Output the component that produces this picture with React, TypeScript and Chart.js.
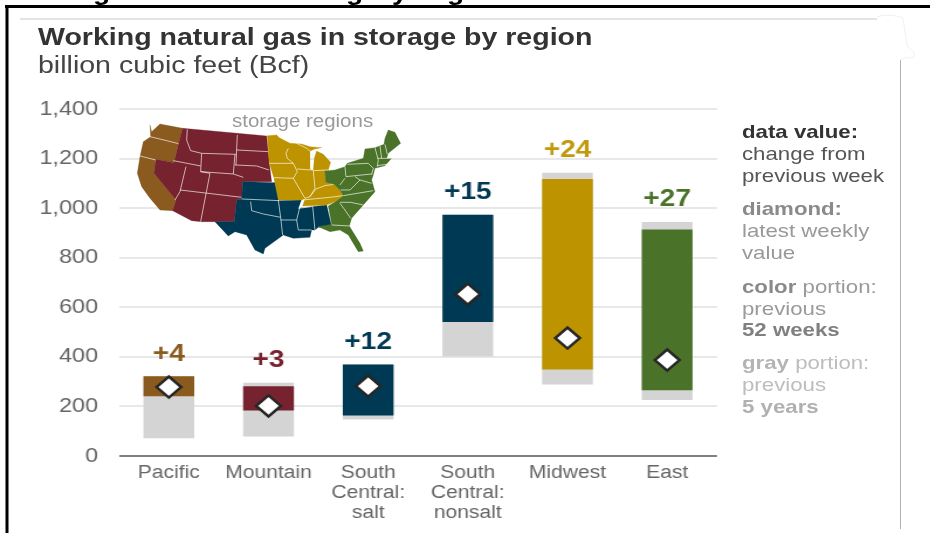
import React, { useEffect, useRef } from "react";
import { Chart, registerables } from "chart.js";

Chart.register(...registerables);

const categories = [
  "Pacific",
  "Mountain",
  ["South", "Central:", "salt"],
  ["South", "Central:", "nonsalt"],
  "Midwest",
  "East",
];
const grayLow = [73, 80, 149, 403, 290, 227];
const grayHigh = [320, 294, 368, 972, 1141, 943];
const colorLow = [242, 185, 165, 542, 350, 267];
const colorHigh = [320, 280, 368, 972, 1116, 912];
const latestWeekly = [278, 202, 282, 653, 476, 387];
const weeklyChange = ["+4", "+3", "+12", "+15", "+24", "+27"];
const regionColors = ["#8a5a1f", "#76232f", "#003953", "#003953", "#bd9400", "#4a7229"];
const textColors = ["#8a5a1f", "#76232f", "#003953", "#003953", "#c09a0c", "#4a7229"];

const K = 1.17;
const W = 930 / K;
const H = 533;
const X = (px: number) => px / K;
const FONT = '"Liberation Sans", Arial, sans-serif';

// decorative locator map: outlines and internal borders, all in 3x page units
const mapRegions: { fill: string; outline: string; borders: string[] }[] = [
  {
    fill: "#8a5a1f",
    outline:
      "450,375 455,395 480,372 548,385 535,435 522,488 468,478 462,520 528,600 518,632 480,630 450,595 425,560 412,520 420,470 430,425 452,410",
    borders: ["450,410 500,422 540,432", "420,468 475,482"],
  },
  {
    fill: "#76232f",
    outline:
      "548,385 800,408 808,490 815,545 728,545 725,597 710,600 703,665 605,665 575,662 518,632 528,600 462,520 468,478 522,488 535,435",
    borders: [
      "562,388 560,420 572,452 605,460",
      "605,460 708,463",
      "712,405 708,495",
      "710,450 805,455",
      "705,495 770,498 807,510",
      "605,460 602,515 700,522 705,463",
      "520,482 602,498",
      "558,500 540,575",
      "602,515 630,520 618,582",
      "700,522 730,532",
      "540,570 725,592",
      "618,582 602,665",
      "540,575 525,600",
    ],
  },
  {
    fill: "#003953",
    outline:
      "728,545 825,548 838,602 905,600 895,625 980,615 995,680 955,682 945,690 935,690 930,712 880,715 850,705 795,745 790,762 765,750 740,705 705,695 685,708 645,665 703,665 710,600 725,597",
    borders: [
      "725,597 838,602",
      "752,605 755,632 790,642 842,652",
      "835,600 842,652 848,705",
      "842,660 890,660",
      "905,600 890,660 895,690 935,690",
      "895,625 935,620",
      "938,618 945,690",
    ],
  },
  {
    fill: "#bd9400",
    outline:
      "802,407 830,405 838,413 870,430 905,432 930,440 965,443 945,447 930,453 930,510 940,512 943,475 950,453 970,463 992,487 985,510 975,513 977,547 1002,553 1020,570 1030,587 1010,603 980,615 908,618 915,597 905,600 835,600 822,535 808,490",
    borders: [
      "808,490 880,490",
      "865,445 858,460 862,475 880,490",
      "822,533 880,535",
      "880,490 892,515 880,535",
      "892,507 930,510",
      "880,535 915,595",
      "940,512 945,565 930,590",
      "940,512 985,510",
      "915,595 930,590 948,567 975,557 1002,553",
      "908,600 990,592 1030,587",
      "890,430 920,445 930,453",
    ],
  },
  {
    fill: "#4a7229",
    outline:
      "975,513 1005,510 1035,500 1042,490 1090,475 1095,447 1125,443 1152,433 1155,415 1165,390 1185,397 1202,430 1165,460 1160,475 1175,475 1155,497 1125,505 1120,525 1115,540 1125,575 1090,615 1055,655 1048,678 1080,730 1090,753 1075,755 1045,705 1020,690 990,695 955,680 995,673 985,618 1010,603 1030,587 1020,570 1002,553 977,547",
    borders: [
      "1035,500 1038,530",
      "1042,493 1105,490",
      "1038,530 1115,522",
      "1125,443 1135,480 1132,500",
      "1140,437 1145,475",
      "1155,433 1162,463",
      "1132,475 1175,475",
      "1132,497 1160,493",
      "1105,490 1120,505 1115,525",
      "1035,535 1020,555",
      "1022,570 1050,570 1080,540",
      "1065,530 1080,540 1115,550",
      "1030,587 1120,572",
      "1020,607 1052,607 1090,615",
      "1020,610 1035,630 1052,655",
      "995,675 1048,678",
    ],
  },
];

const notes: { y: number; parts: { t: string; b?: boolean; c: string }[] }[] = [
  { y: 132, parts: [{ t: "data value:", b: true, c: "#333333" }] },
  { y: 154, parts: [{ t: "change from", c: "#555555" }] },
  { y: 176, parts: [{ t: "previous week", c: "#555555" }] },
  { y: 209, parts: [{ t: "diamond:", b: true, c: "#8a8a8a" }] },
  { y: 231, parts: [{ t: "latest weekly", c: "#999999" }] },
  { y: 253, parts: [{ t: "value", c: "#999999" }] },
  { y: 287, parts: [{ t: "color", b: true, c: "#8a8a8a" }, { t: " portion:", c: "#9a9a9a" }] },
  { y: 309, parts: [{ t: "previous", c: "#9a9a9a" }] },
  { y: 330, parts: [{ t: "52 weeks", b: true, c: "#808080" }] },
  { y: 363, parts: [{ t: "gray", b: true, c: "#b4b4b4" }, { t: " portion:", c: "#bdbdbd" }] },
  { y: 385, parts: [{ t: "previous", c: "#bdbdbd" }] },
  { y: 407, parts: [{ t: "5 years", b: true, c: "#b0b0b0" }] },
];

const Label = ({ x, y, size, bold, color, children }: any) => (
  <div
    style={{
      position: "absolute",
      left: X(x),
      top: y - 15,
      height: 30,
      lineHeight: "30px",
      fontFamily: FONT,
      fontSize: size,
      fontWeight: bold ? 700 : 400,
      color,
      whiteSpace: "nowrap",
    }}
  >
    {children}
  </div>
);

const changeLabels = {
  id: "changeLabels",
  afterDatasetsDraw(chart: any) {
    const { ctx, scales } = chart;
    ctx.save();
    ctx.font = `bold 24px ${FONT}`;
    ctx.textAlign = "center";
    ctx.textBaseline = "middle";
    weeklyChange.forEach((label, i) => {
      ctx.fillStyle = textColors[i];
      ctx.fillText(label, scales.x.getPixelForValue(i), scales.y.getPixelForValue(grayHigh[i]) - 22.5);
    });
    ctx.restore();
  },
};

export default function App() {
  const ref = useRef<HTMLCanvasElement>(null);
  useEffect(() => {
    const chart = new Chart(ref.current!, {
      type: "bar",
      plugins: [changeLabels],
      data: {
        labels: categories as any,
        datasets: [
          {
            type: "line",
            data: latestWeekly,
            order: 1,
            showLine: false,
            pointStyle: "rectRot",
            pointRadius: 10.5,
            pointBackgroundColor: "#ffffff",
            pointBorderColor: "#262626",
            pointBorderWidth: 2.5,
          },
          {
            data: colorLow.map((v, i) => [v, colorHigh[i]]),
            order: 2,
            grouped: false,
            barThickness: X(50),
            backgroundColor: regionColors,
          },
          {
            data: grayLow.map((v, i) => [v, grayHigh[i]]),
            order: 3,
            grouped: false,
            barThickness: X(50),
            backgroundColor: "#d4d4d4",
          },
        ] as any,
      },
      options: {
        responsive: false,
        animation: false,
        layout: { padding: { left: 0, right: X(930 - 718), top: 109, bottom: 0 } },
        plugins: { legend: { display: false }, title: { display: false }, tooltip: { enabled: false } },
        scales: {
          x: {
            offset: true,
            grid: { display: false },
            border: { display: false },
            afterFit: (s: any) => {
              s.height = 77;
            },
            ticks: {
              autoSkip: false,
              maxRotation: 0,
              padding: -1,
              color: "#666666",
              font: { family: FONT, size: 18, lineHeight: 1.12 },
            },
          },
          y: {
            min: 0,
            max: 1400,
            border: { display: false },
            afterFit: (s: any) => {
              s.width = X(119);
            },
            grid: {
              drawTicks: false,
              lineWidth: 2,
              color: (c: any) => (c.tick && c.tick.value === 0 ? "#808080" : "#e8e8e8"),
            },
            ticks: {
              stepSize: 200,
              padding: X(21),
              color: "#666666",
              font: { family: FONT, size: 20 },
              callback: (v: any) => Number(v).toLocaleString("en-US"),
            },
          },
        },
      },
    });
    return () => chart.destroy();
  }, []);

  return (
    <div style={{ position: "fixed", left: 0, top: 0, width: 930, height: 533, overflow: "hidden", background: "#fff" }}>
      <div
        style={{
          position: "absolute",
          left: 0,
          top: 0,
          width: W,
          height: H,
          transform: `scaleX(${K})`,
          transformOrigin: "0 0",
        }}
      >
        <canvas ref={ref} width={W} height={H} style={{ display: "block" }} />
        <Label x={93} y={-8} size={24} bold color="#000">g</Label>
        <Label x={346} y={-8} size={24} bold color="#000">g</Label>
        <Label x={392} y={-8} size={24} bold color="#000">y</Label>
        <Label x={447} y={-8} size={24} bold color="#000">g</Label>
        <Label x={38} y={37} size={24.4} bold color="#333333">Working natural gas in storage by region</Label>
        <Label x={38} y={65} size={24.4} color="#444444">billion cubic feet (Bcf)</Label>
        {notes.map((n, i) => (
          <Label key={i} x={742} y={n.y} size={19} color={n.parts[0].c}>
            {n.parts.map((p, j) => (
              <span key={j} style={{ fontWeight: p.b ? 700 : 400, color: p.c }}>{p.t}</span>
            ))}
          </Label>
        ))}
      </div>
      <svg width={930} height={533} style={{ position: "absolute", left: 0, top: 0 }}>
        <rect x={5} y={5} width={925} height={3} fill="#000" />
        <rect x={5.5} y={5} width={3} height={528} fill="#000" />
        <rect x={20} y={18} width={857} height={2} fill="#e4e4e4" />
        <rect x={900} y={60} width={1} height={469} fill="#b0b0b0" />
        <path d="M877 17 C885 14 895 15 903 18 C905 30 906 42 908 47 C912 50 916 54 914 57 C910 59 906 56 900 60" fill="none" stroke="#ececec" strokeWidth={0.8} />
        <g transform="scale(0.3333)" strokeLinejoin="round">
          {mapRegions.map((r, i) => (
            <g key={i}>
              <polygon points={r.outline} fill={r.fill} stroke={r.fill} strokeWidth={1} />
              {r.borders.map((b, j) => (
                <polyline key={j} points={b} fill="none" stroke="#ffffff" strokeOpacity={0.75} strokeWidth={2.6} />
              ))}
            </g>
          ))}
        </g>
      </svg>
      <div
        style={{
          position: "absolute",
          left: 232,
          top: 106,
          height: 30,
          lineHeight: "30px",
          transform: `scaleX(${K})`,
          transformOrigin: "0 0",
          fontFamily: FONT,
          fontSize: 17.5,
          color: "#999999",
          whiteSpace: "nowrap",
        }}
      >
        storage regions
      </div>
    </div>
  );
}
